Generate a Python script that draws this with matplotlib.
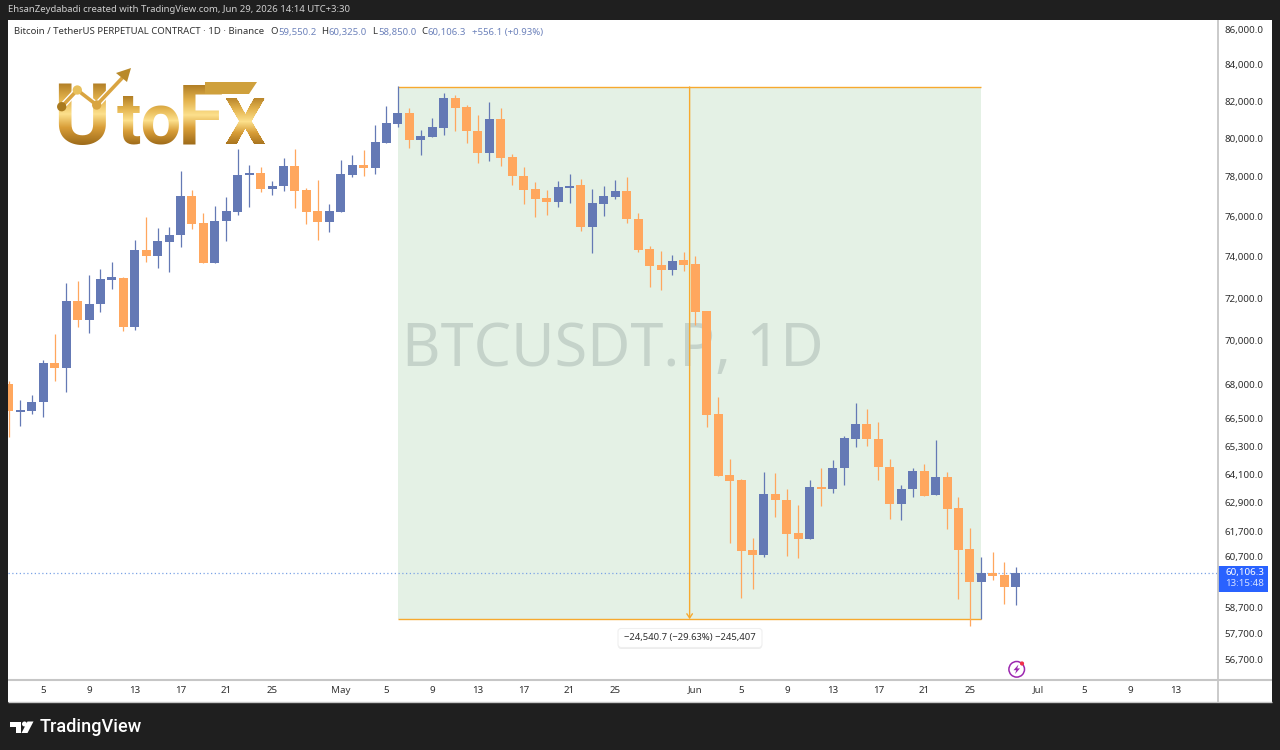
import numpy as np
import pandas as pd
import matplotlib
matplotlib.use("Agg")
import matplotlib.pyplot as plt
import matplotlib.patheffects as pe
from matplotlib.patches import Rectangle, FancyBboxPatch, Circle, Polygon
from matplotlib.ticker import FuncFormatter, NullLocator, FixedLocator
from matplotlib.transforms import ScaledTranslation

plt.rcParams["font.family"] = ["Noto Sans", "DejaVu Sans"]

# Daily BTCUSDT perpetual candles, 2 Apr to 29 Jun 2026
dates = pd.date_range("2026-04-02", "2026-06-29", freq="D")
opens = [68080, 66840, 66890, 67260, 69030, 68800, 71900, 71010, 71750, 72910, 73030, 70700, 74390, 74090, 74780,
         75100, 77070, 75700, 73750, 75800, 76280, 78130, 78250, 77430, 77580, 78610, 77360, 76310, 75750, 76280,
         78160, 78670, 78510, 79830, 80840, 81400, 79980, 80150, 80630, 82210, 81720, 80470, 79280, 81090, 79080,
         78100, 77430, 76970, 76770, 77480, 77620, 75500, 76680, 77020, 77310, 75930, 74420, 73630, 73400, 73870,
         73670, 71420, 66740, 64110, 63880, 61020, 60820, 63320, 63070, 61690, 61450, 63590, 63520, 64390, 65660,
         66300, 65650, 64460, 62890, 63500, 64280, 63250, 64020, 62710, 61050, 59750, 60080, 60000, 59550.2]
highs = [68200, 67360, 67580, 69160, 70360, 72760, 72880, 73160, 73460, 73790, 73070, 74870, 76030, 75460, 75530,
         78340, 77380, 76230, 76570, 77010, 79490, 78650, 78580, 77860, 79020, 79490, 77470, 77890, 76670, 78930,
         79190, 79450, 80790, 81790, 82880, 81700, 80510, 81130, 82510, 82390, 81850, 81310, 82020, 81670, 79240,
         78550, 77770, 77380, 77860, 78200, 77930, 77440, 77580, 77890, 78060, 76200, 74580, 74320, 74140, 74260,
         74090, 71440, 67510, 64770, 63950, 61510, 64230, 64180, 63500, 62840, 63890, 64390, 64740, 65780, 67240,
         66970, 66400, 64770, 63670, 64390, 64560, 65600, 64250, 63190, 61910, 60740, 60930, 60530, 60325.0]
lows = [65740, 66230, 66740, 66600, 68220, 67730, 70700, 70420, 71400, 72500, 70490, 70550, 73800, 73480, 73290,
        74540, 75430, 73720, 73750, 74800, 76130, 76530, 77280, 77140, 77340, 76460, 75680, 74870, 75280, 76280,
        78030, 78110, 78180, 79820, 80680, 79540, 79200, 80150, 80240, 80450, 79830, 78750, 78870, 78610, 77650,
        76670, 76030, 76130, 76530, 76700, 75330, 74210, 76080, 76900, 75700, 74260, 72560, 72430, 73160, 73350,
        70780, 66180, 64060, 61300, 59090, 59450, 60720, 62370, 60770, 60690, 61450, 62810, 63360, 63670, 65320,
        65360, 63890, 62260, 62230, 63170, 63240, 63250, 61850, 59080, 58020, 58280, 59810, 58870, 58850.0]
closes = [66870, 66920, 67270, 69030, 68800, 71900, 71010, 71770, 72960, 73040, 70700, 74390, 74090, 74800, 75110,
          77070, 75660, 73750, 75810, 76300, 78150, 78250, 77410, 77600, 78610, 77330, 76280, 75750, 76310, 78200,
          78670, 78510, 79870, 80860, 81400, 79980, 80190, 80650, 82210, 81680, 80450, 79290, 81090, 79050, 78100,
          77390, 76940, 76770, 77520, 77600, 75500, 76720, 77060, 77310, 75910, 74390, 73590, 73400, 73850, 73640,
          71400, 66710, 64060, 63840, 60980, 60820, 63310, 63040, 61660, 61450, 63590, 63520, 64420, 65690, 66300,
          65640, 64430, 62890, 63520, 64290, 63240, 64010, 62670, 61010, 59730, 60080, 59980, 59520, 60106.3]

# Price-range drawing: 6 May to 26 Jun, between the two measured levels
range_start = pd.Timestamp("2026-05-06")
range_end = pd.Timestamp("2026-06-26")
range_top = 82824.0
range_bottom = 58283.3
last_price = 60106.3

price_ticks = [86000, 84000, 82000, 80000, 78000, 76000, 74000, 72000, 70000, 68000, 66500, 65300, 64100, 62900,
               61700, 60700, 58700, 57700, 56700]
time_ticks = ["2026-04-05", "2026-04-09", "2026-04-13", "2026-04-17", "2026-04-21", "2026-04-25", "2026-05-01",
              "2026-05-05", "2026-05-09", "2026-05-13", "2026-05-17", "2026-05-21", "2026-05-25", "2026-06-01",
              "2026-06-05", "2026-06-09", "2026-06-13", "2026-06-17", "2026-06-21", "2026-06-25", "2026-07-01",
              "2026-07-05", "2026-07-09", "2026-07-13"]
time_labels = ["5", "9", "13", "17", "21", "25", "May", "5", "9", "13", "17", "21", "25", "Jun", "5", "9", "13",
               "17", "21", "25", "Jul", "5", "9", "13"]

UP = "#6479b5"
DOWN = "#ffa75e"
FRAME = "#1f1f1f"
RANGE_LINE = "#f7a92e"
RANGE_FILL = "#e4f1e5"
RULE = "#c6c6c6"
QUOTE = "#6d82bb"

W, H = 1280, 750
fig = plt.figure(figsize=(W / 100, H / 100), dpi=100, facecolor=FRAME)

# White panel behind the chart and both scales
back = fig.add_axes([0, 0, 1, 1], zorder=0)
back.set_xlim(0, W)
back.set_ylim(H, 0)
back.axis("off")
back.add_patch(Rectangle((8, 20), 1264, 682, fc="white", ec="none"))

# Price pane: logarithmic scale, one day is about 11.44 px wide
left, right, top, bottom = 8, 1217.7, 20, 680
ax = fig.add_axes([left / W, 1 - bottom / H, (right - left) / W, (bottom - top) / H], zorder=1)
ax.set_facecolor("white")
for side in ax.spines.values():
    side.set_visible(False)
ax.set_yscale("log")

x = matplotlib.dates.date2num(dates)
may1 = matplotlib.dates.date2num(pd.Timestamp("2026-05-01"))
day_px = 11.44
ax.set_xlim(may1 + (left - 340.7) / day_px, may1 + (right - 340.7) / day_px)
ax.set_ylim(55990, 86570)

ax.yaxis.tick_right()
ax.yaxis.set_major_locator(FixedLocator(price_ticks))
ax.yaxis.set_minor_locator(NullLocator())
ax.yaxis.set_major_formatter(FuncFormatter(lambda v, _: f"{v:,.1f}"))
ax.tick_params(axis="y", length=0, pad=5, labelsize=7, labelcolor="#2e2e2e")
# Price captions ride one pixel above their levels
nudge = ScaledTranslation(0, 1 / 100, fig.dpi_scale_trans)
for lab in ax.get_yticklabels():
    lab.set_transform(lab.get_transform() + nudge)

tick_x = matplotlib.dates.date2num(pd.to_datetime(time_ticks))
ax.set_xticks(tick_x)
ax.set_xticklabels(time_labels)
ax.tick_params(axis="x", length=0, pad=4, labelsize=7, labelcolor="#2e2e2e")
for lab in ax.get_xticklabels():
    if lab.get_text() in ("May", "Jun", "Jul"):
        lab.set_fontweight("bold")
        lab.set_color("#3a3a3a")

# Measured range: filled box, its two edges and the down arrow
x0, x1 = matplotlib.dates.date2num([range_start, range_end])
ax.fill_between([x0, x1], range_bottom, range_top, color=RANGE_FILL, lw=0, zorder=1)
ax.hlines([range_top, range_bottom], x0, x1, color=RANGE_LINE, lw=1.0, zorder=2)
ax.annotate("", xy=((x0 + x1) / 2, range_bottom), xytext=((x0 + x1) / 2, range_top),
            arrowprops=dict(arrowstyle="->,head_width=0.2,head_length=0.3", color=RANGE_LINE, lw=1.0,
                            shrinkA=0, shrinkB=0), zorder=2.5)

# Symbol watermark sits between the fill and the candles
ax.text(0.5, 0.5, "BTCUSDT.P, 1D", transform=ax.transAxes, ha="center", va="center",
        fontsize=42.7, color="#c5d3ca", zorder=2.2)

# Last-price line
ax.axhline(last_price, color="#7ba3e6", lw=0.9, ls=(0, (1, 2)), zorder=3)

# Candles
o, h, l, c = map(np.asarray, (opens, highs, lows, closes))
colours = np.where(c >= o, UP, DOWN)
ax.vlines(x, l, h, colors=colours, lw=0.9, zorder=4)
ax.bar(x, np.abs(c - o), bottom=np.minimum(o, c), width=0.79, color=colours, lw=0, zorder=5)

# Scale separators, captions and badges live on a pixel-addressed top layer
top_layer = fig.add_axes([0, 0, 1, 1], zorder=3)
top_layer.set_xlim(0, W)
top_layer.set_ylim(H, 0)
top_layer.axis("off")
top_layer.patch.set_visible(False)
top_layer.plot([8, 1272], [680, 680], color=RULE, lw=1.5, solid_capstyle="butt")
top_layer.plot([8, 1272], [702, 702], color=RULE, lw=1.0, solid_capstyle="butt")
top_layer.plot([1217.7, 1217.7], [20, 702], color=RULE, lw=1.3, solid_capstyle="butt")

top_layer.text(8, 10, "EhsanZeydabadi created with TradingView.com, Jun 29, 2026 14:14 UTC+3:30",
               color="#cfcfcf", fontsize=6.86, va="center", ha="left")

top_layer.text(14, 32, "Bitcoin / TetherUS PERPETUAL CONTRACT · 1D · Binance", color="#333333", fontsize=6.9,
               va="center", ha="left")
for px, letter, vx, value in [(270.5, "O", 278, "59,550.2"), (321.5, "H", 328.6, "60,325.0"),
                              (372.5, "L", 378, "58,850.0"), (421.5, "C", 427.5, "60,106.3")]:
    top_layer.text(px, 32, letter, color="#333333", fontsize=6.9, va="center", ha="left")
    top_layer.text(vx, 32, value, color=QUOTE, fontsize=6.9, va="center", ha="left")
top_layer.text(472, 32, "+556.1 (+0.93%)", color=QUOTE, fontsize=6.9, va="center", ha="left")

# Current price badge on the scale
top_layer.add_patch(Rectangle((1218, 566), 49.7, 25.7, fc="#2962ff", ec="none"))
top_layer.text(1225, 572.5, "60,106.3", color="white", fontsize=7, va="center", ha="left")
top_layer.text(1225, 584, "13:15:48", color="#d5e0ff", fontsize=7, va="center", ha="left")

# Range read-out
top_layer.add_patch(FancyBboxPatch((618, 628.5), 144, 19, boxstyle="round,pad=0,rounding_size=3", fc="white",
                                   ec="#efefef", lw=0.8,
                                   path_effects=[pe.withSimplePatchShadow(offset=(0, -1), shadow_rgbFace="#000000",
                                                                          alpha=0.08)]))
top_layer.text(690, 637.5, "−24,540.7 (−29.63%) −245,407", color="#2e2e2e", fontsize=6.8, ha="center", va="center")

# Lightning badge under the last candle
top_layer.add_patch(Circle((1016.7, 669.3), 7.8, fc="white", ec="#9c27b0", lw=1.1))
top_layer.add_patch(Polygon([(1018.5, 664.5), (1013.5, 670.2), (1016.3, 670.2), (1015, 674), (1020, 668.4),
                             (1017.2, 668.4)], fc="#9c27b0", ec="none"))
top_layer.add_patch(Circle((1022, 663.5), 2.1, fc="#f0304a", ec="none"))

# Footer brand
top_layer.add_patch(Polygon([(10, 721.5), (21, 721.5), (21, 733), (15.5, 733), (15.5, 726.5), (10, 726.5)],
                            fc="white", ec="none"))
top_layer.add_patch(Circle((24.5, 724), 2.5, fc="white", ec="none"))
top_layer.add_patch(Polygon([(27.5, 721.5), (33.5, 721.5), (27.5, 733), (21.5, 733)], fc="white", ec="none"))
top_layer.text(39.5, 727, "TradingView", color="white", fontsize=13.1, fontweight="medium", family="Roboto",
               va="center", ha="left")


# Vertical gold ramp for the brand mark; white outlines stay white
def gold_ramp(img, dpi):
    rows = img.shape[0]
    t = np.linspace(0, 1, rows)
    stops = [0, 0.25, 0.5, 0.72, 1]
    ramp = np.stack([np.interp(t, stops, [0.70, 0.89, 0.99, 0.85, 0.62]),
                     np.interp(t, stops, [0.50, 0.70, 0.88, 0.62, 0.42]),
                     np.interp(t, stops, [0.15, 0.30, 0.55, 0.22, 0.10])], axis=1)[:, None, :]
    out = img.copy()
    rgb = np.repeat(ramp, img.shape[1], axis=1)
    keep = img[..., 2:3] > 0.75
    out[..., :3] = np.where(keep, img[..., :3], rgb)
    return out, 0, 0


def brand(px, py, s, size, outline=False):
    t = top_layer.text(px, py, s, color="#d9a441", fontsize=size, fontweight="bold", family="Roboto",
                       ha="left", va="baseline", zorder=6)
    if outline:
        t.set_path_effects([pe.withStroke(linewidth=3, foreground="white")])
    t.set_agg_filter(gold_ramp)
    return t


brand(53, 144, "U", 62)
brand(117, 144, "to", 52)
brand(178, 144, "F", 60)
brand(225, 144, "X", 46, outline=True)
top_layer.add_patch(Polygon([(205, 82), (257, 82), (249, 94), (205, 94)], fc="#cfa03c", ec="none", zorder=6))
top_layer.plot([61.7, 77.3, 96.7, 125], [106.7, 90, 105, 75], color="#d9a441", lw=2.6, zorder=7,
               path_effects=[pe.withStroke(linewidth=4.5, foreground="white")])
top_layer.scatter([61.7, 77.3, 96.7], [106.7, 90, 105], s=45, color=["#a97a1f", "#e8c05c", "#d9a441"], lw=0, zorder=8)
top_layer.add_patch(Polygon([(131, 68), (116, 73), (127, 82)], fc="#b98a2a", ec="none", zorder=8))

fig.savefig("out.png", dpi=100, facecolor=FRAME)
